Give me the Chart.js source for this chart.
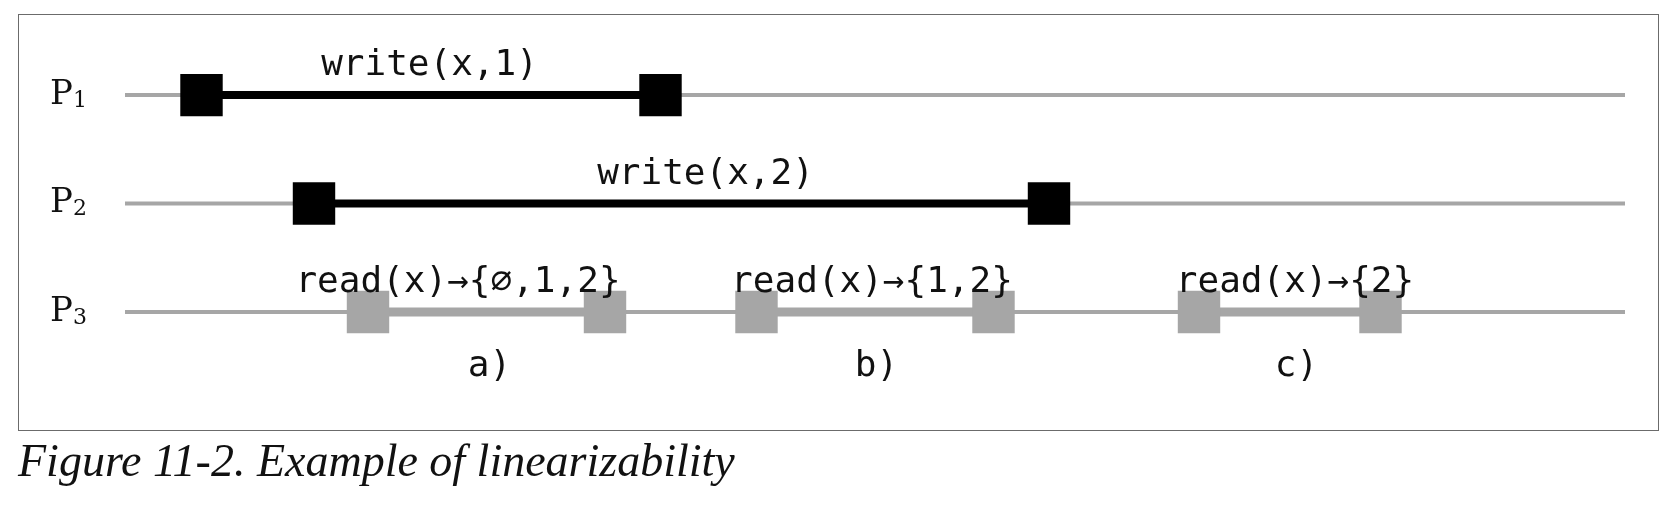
<!DOCTYPE html>
<html>
<head>
<meta charset="utf-8">
<script src="https://cdn.jsdelivr.net/npm/chart.js@4/dist/chart.umd.min.js"></script>
<style>
  body { margin: 0; background: #fff; }
  #wrap { position: relative; width: 1678px; height: 524px; }
  #box { position: absolute; left: 18px; top: 14px; width: 1641px; height: 417px; border: 1.5px solid #6b6b6b; box-sizing: border-box; }
  #chart { position: absolute; left: 0; top: 0; }
  #caption { position: absolute; left: 18px; top: 434px; font: italic 46px "Liberation Serif", serif; color: #111; }
</style>
</head>
<body>
<div id="wrap">
  <div id="box"></div>
  <canvas id="chart" width="1678" height="524"></canvas>
  <div id="caption">Figure 11-2. Example of linearizability</div>
</div>
<script>
// process rows (y value) and names
const processes = ['P', 'P', 'P']
const processSubs = ['1', '2', '3']
const processRows = [3, 2, 1]

// operations: start / end time, row, label and where the label sits
const opStart = [5.1, 12.6, 16.2, 42.1, 71.6]
const opEnd = [35.7, 61.6, 32.0, 57.9, 83.7]
const opRow = [3, 2, 1, 1, 1]
const opLabel = ['write(x,1)', 'write(x,2)', 'read(x)\u2192{\u2205,1,2}', 'read(x)\u2192{1,2}', 'read(x)\u2192{2}']
const opLabelX = [20.3, 38.7, 22.2, 49.8, 78.0]
const opColor = ['#000000', '#000000', '#a6a6a6', '#a6a6a6', '#a6a6a6']

// case letters under P3
const caseLabels = ['a)', 'b)', 'c)']
const caseX = [24.3, 50.1, 78.1]
const caseY = 0.37

const datasets = []
processRows.forEach(function (row) {
  datasets.push({
    data: [{x: 0, y: row}, {x: 100, y: row}],
    borderColor: '#a6a6a6', borderWidth: 4, pointRadius: 0, order: 2
  })
})
for (let i = 0; i < opStart.length; i++) {
  datasets.push({
    data: [{x: opStart[i], y: opRow[i]}, {x: opEnd[i], y: opRow[i]}],
    borderColor: opColor[i],
    backgroundColor: opColor[i],
    borderWidth: opColor[i] == '#000000' ? 8 : 9,
    pointStyle: 'rect', pointRadius: 30, pointBorderWidth: 0,
    order: 1
  })
}

const textPlugin = {
  id: 'texts',
  afterDatasetsDraw(chart) {
    const ctx = chart.ctx
    const xs = chart.scales.x, ys = chart.scales.y
    ctx.save()
    ctx.fillStyle = '#111'
    ctx.textAlign = 'center'
    ctx.textBaseline = 'alphabetic'
    ctx.font = '36px "DejaVu Sans Mono", monospace'
    for (let i = 0; i < opLabel.length; i++) {
      ctx.fillText(opLabel[i], xs.getPixelForValue(opLabelX[i]), ys.getPixelForValue(opRow[i]) - 20)
    }
    for (let i = 0; i < caseLabels.length; i++) {
      ctx.fillText(caseLabels[i], xs.getPixelForValue(caseX[i]), ys.getPixelForValue(caseY) - 4)
    }
    ctx.textAlign = 'left'
    ctx.textBaseline = 'middle'
    for (let i = 0; i < processes.length; i++) {
      const py = ys.getPixelForValue(processRows[i])
      ctx.font = '34px "DejaVu Serif", serif'
      ctx.fillText(processes[i], 50, py)
      ctx.font = '22px "DejaVu Serif", serif'
      ctx.fillText(processSubs[i], 73, py + 6)
    }
    ctx.restore()
  }
}

new Chart(document.getElementById('chart'), {
  type: 'line',
  data: { datasets: datasets },
  options: {
    responsive: false,
    animation: false,
    layout: { padding: { left: 125, right: 53, top: 12, bottom: 136 } },
    plugins: { legend: { display: false }, tooltip: { enabled: false } },
    scales: {
      x: { type: 'linear', min: 0, max: 100, display: false },
      y: { type: 'linear', min: 0.3, max: 3.6, display: false }
    }
  },
  plugins: [textPlugin]
})
</script>
</body>
</html>
